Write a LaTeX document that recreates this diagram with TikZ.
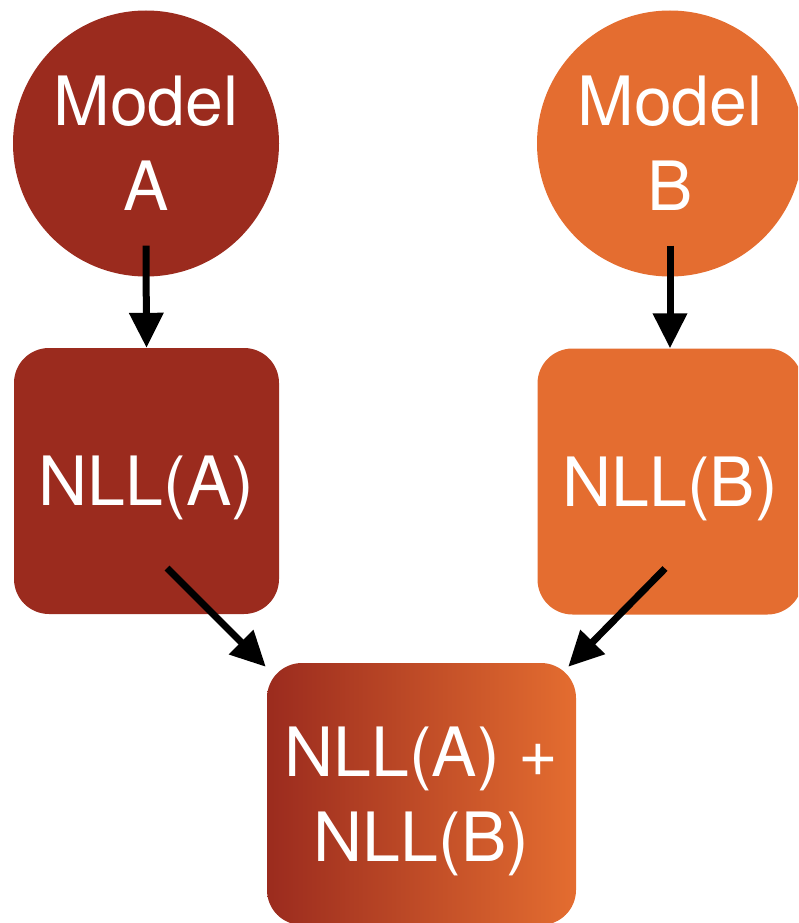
\documentclass[tikz,border=0pt]{standalone}
\usepackage{fontspec}
\setmainfont{TeX Gyre Heros}
\usetikzlibrary{arrows.meta}
\definecolor{redA}{RGB}{155,43,30}
\definecolor{orB}{RGB}{228,109,48}
\tikzset{
  lbl/.style={text=white, align=center, font=\fontsize{68pt}{85pt}\selectfont, inner sep=0pt},
  modelc/.style={lbl, circle, minimum size=266pt},
  nllbox/.style={lbl, rectangle, rounded corners=35pt, minimum width=265pt, minimum height=266pt, text height=49pt, text depth=0pt},
  arr/.style={line width=7pt, -{Triangle[width=33pt,length=35pt]}}
}
\begin{document}
\begin{tikzpicture}[x=1pt,y=-1pt]
\useasboundingbox (0,0) rectangle (798,923);
\clip (0,0) rectangle (798,923);
\node[modelc, fill=redA] (ca) at (146,143.5) {Model\\A};
\node[modelc, fill=orB] (cb) at (670,143.5) {Model\\B};
\node[nllbox, fill=redA] (na) at (146.5,481) {NLL(A)};
\node[nllbox, fill=orB] (nb) at (670,481.5) {NLL(B)};
\node[nllbox, minimum width=309pt, minimum height=262pt, text height=134pt, text depth=0pt, left color=redA, right color=orB] (ns) at (421.5,794) {NLL(A) +\\NLL(B)};
\draw[arr] ([yshift=31pt]ca.south) -- (na.north);
\draw[arr] ([yshift=31pt]cb.south) -- (nb.north);
\draw[arr] ([shift={(20.5pt,-87pt)}]na.center) -- ([shift={(-1pt,-4pt)}]ns.north west);
\draw[arr] ([shift={(-5pt,-87pt)}]nb.center) -- ([shift={(-8pt,-4pt)}]ns.north east);
\end{tikzpicture}
\end{document}
